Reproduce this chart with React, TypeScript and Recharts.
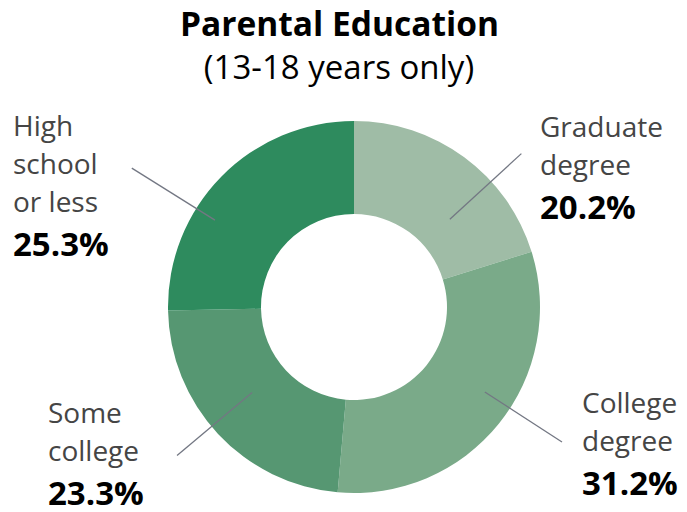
import React from "react";
import { PieChart, Pie, Cell } from "recharts";

const categories = ["Graduate degree", "College degree", "Some college", "High school or less"];
const labelLines = [["Graduate", "degree"], ["College", "degree"], ["Some", "college"], ["High", "school", "or less"]];
const values = [20.2, 31.2, 23.3, 25.3];
const colors = ["#9fbca6", "#7aaa89", "#569772", "#2e8b5e"];

const data = categories.map((name, i) => ({ name, value: values[i] }));

// label layout: leader angle (deg clockwise from top), radii, text offset from center
const LAYOUT = [
  { ang: 47.5, r1: 130, r2: 227, tx: 186, ty: -170 },
  { ang: 123, r1: 156, r2: 248, tx: 228, ty: 106 },
  { ang: 230, r1: 133, r2: 231, tx: -306, ty: 116 },
  { ang: 302, r1: 164, r2: 262, tx: -341, ty: -171 },
];

const FONT = "'Open Sans', sans-serif";

const renderLabel = (props: any) => {
  const { cx, cy, index } = props;
  const L = LAYOUT[index];
  const a = (L.ang * Math.PI) / 180;
  const x1 = cx + L.r1 * Math.sin(a);
  const y1 = cy - L.r1 * Math.cos(a);
  const x2 = cx + L.r2 * Math.sin(a);
  const y2 = cy - L.r2 * Math.cos(a);
  const lines = labelLines[index];
  const tx = cx + L.tx;
  const ty = cy + L.ty;
  return (
    <g key={`lab-${index}`}>
      <line x1={x1} y1={y1} x2={x2} y2={y2} stroke="#737783" strokeWidth={1.3} />
      {lines.map((t, k) => (
        <text key={k} x={tx} y={ty + k * 38} fontFamily={FONT} fontSize={28} fill="#454545">
          {t}
        </text>
      ))}
      <text
        x={tx}
        y={ty + (lines.length - 1) * 38 + 44}
        fontFamily={FONT}
        fontSize={33}
        fontWeight={700}
        fill="#000"
      >
        {values[index].toFixed(1)}%
      </text>
    </g>
  );
};

export default function App() {
  return (
    <div style={{ position: "absolute", left: 0, top: 0, background: "#fff" }}>
      <PieChart width={687} height={512} margin={{ top: 0, right: 0, bottom: 0, left: 0 }}>
        <text x={339.5} y={35.5} textAnchor="middle" fontFamily={FONT} fontSize={33.5} fontWeight={700} fill="#000">
          Parental Education
        </text>
        <text x={339} y={79} textAnchor="middle" fontFamily={FONT} fontSize={33} fill="#000">
          (13-18 years only)
        </text>
        <Pie
          data={data}
          dataKey="value"
          nameKey="name"
          cx={354}
          cy={307}
          innerRadius={93}
          outerRadius={186}
          startAngle={90}
          endAngle={-270}
          stroke="none"
          labelLine={false}
          label={renderLabel}
          isAnimationActive={false}
        >
          {data.map((d, i) => (
            <Cell key={d.name} fill={colors[i]} />
          ))}
        </Pie>
      </PieChart>
    </div>
  );
}
